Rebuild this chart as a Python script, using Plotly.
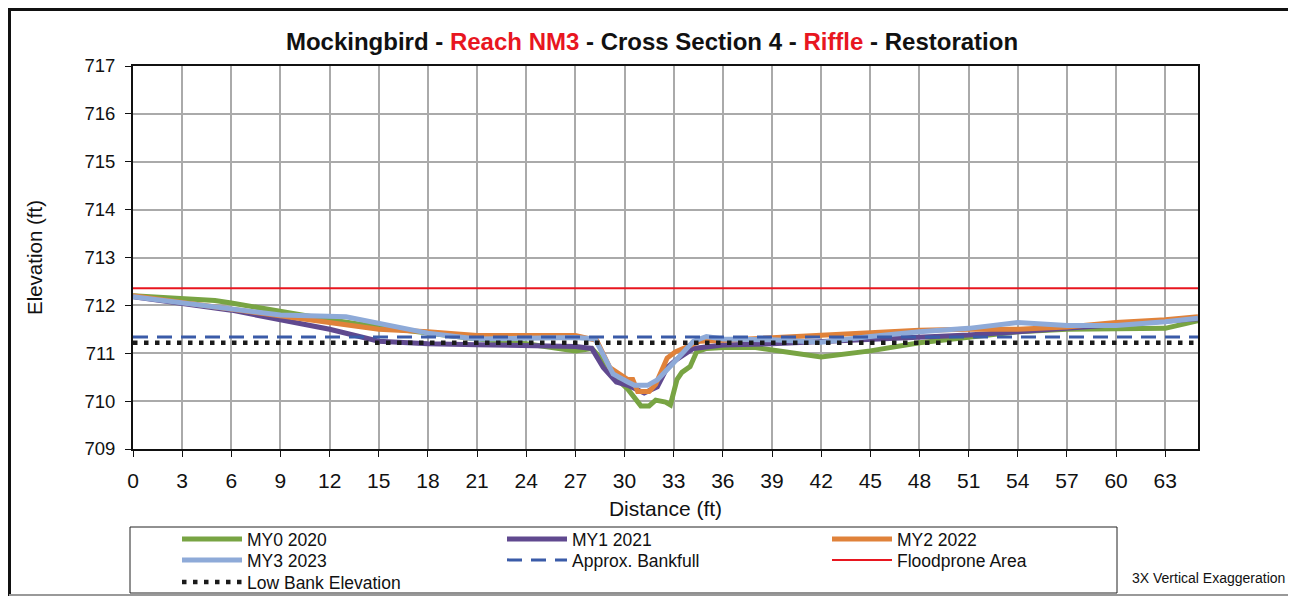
import plotly.graph_objects as go

# ---- data ----
my0_x = [0, 5, 6, 9, 12, 15, 18, 21, 24, 27, 28, 28.8, 29.4, 30.2, 31.0, 31.5, 31.9, 32.5, 32.8, 33.2, 33.5, 34.0, 34.4, 35.0, 36, 38, 42, 45, 48, 51, 54, 57, 60, 63, 65]
my0_y = [712.2, 712.1, 712.05, 711.87, 711.7, 711.55, 711.42, 711.3, 711.2, 711.05, 711.1, 710.8, 710.5, 710.25, 709.9, 709.9, 710.02, 709.98, 709.92, 710.45, 710.6, 710.72, 711.03, 711.1, 711.12, 711.12, 710.92, 711.05, 711.22, 711.33, 711.45, 711.5, 711.5, 711.52, 711.68]

my1_x = [0, 6, 9, 12, 15, 18, 21, 24, 27, 28, 28.7, 29.5, 30.2, 31.2, 32.0, 32.6, 33.1, 34.2, 36, 39, 42, 45, 48, 51, 54, 57, 60, 63, 65]
my1_y = [712.18, 711.9, 711.7, 711.5, 711.25, 711.2, 711.18, 711.16, 711.14, 711.1, 710.7, 710.4, 710.33, 710.17, 710.3, 710.7, 710.85, 711.1, 711.17, 711.2, 711.24, 711.28, 711.33, 711.38, 711.45, 711.52, 711.58, 711.65, 711.72]

my2_x = [0, 6, 10, 15, 18, 21, 24, 27, 28.3, 29.1, 30.2, 30.5, 30.8, 31.5, 31.9, 32.6, 33.1, 33.6, 34.6, 36, 39, 42, 45, 48, 51, 54, 57, 60, 63, 65]
my2_y = [712.2, 711.92, 711.72, 711.5, 711.45, 711.37, 711.37, 711.37, 711.27, 710.7, 710.45, 710.45, 710.2, 710.2, 710.35, 710.9, 711.03, 711.1, 711.25, 711.27, 711.32, 711.37, 711.42, 711.48, 711.5, 711.5, 711.55, 711.64, 711.7, 711.76]

my3_x = [0, 5, 9, 13, 15, 18, 21, 24, 27, 28.2, 29.3, 30.2, 30.6, 31.4, 32, 33, 34.2, 35, 36, 39, 42, 45, 48, 51, 54, 57, 60, 63, 65]
my3_y = [712.18, 711.97, 711.8, 711.76, 711.62, 711.42, 711.3, 711.32, 711.33, 711.3, 710.57, 710.4, 710.33, 710.33, 710.44, 710.8, 711.25, 711.35, 711.3, 711.28, 711.23, 711.35, 711.45, 711.52, 711.64, 711.58, 711.58, 711.66, 711.73]

line_x = [0, 65]
bankfull_y = [711.34, 711.34]
floodprone_y = [712.36, 712.36]
lowbank_y = [711.22, 711.22]

x_ticks = list(range(0, 64, 3))
y_ticks = list(range(709, 718))

FONT = "Liberation Sans, Arial, sans-serif"

# page body has an 8px margin; lay out in viewport pixels, convert to figure space
OX, OY = 8, 8
W, H = 1296 - OX, 597 - OY
L, R, T, B = 133 - OX, 1296 - 1198, 66 - OY, 597 - 449
PW, PH = W - L - R, H - T - B
def px(x): return (x - OX - L) / PW
def py(y): return (H - B - (y - OY)) / PH

fig = go.Figure()
series = [
    ("MY0 2020", my0_x, my0_y, dict(color="#78A443", width=5), "legend"),
    ("MY1 2021", my1_x, my1_y, dict(color="#60498F", width=5), "legend"),
    ("MY2 2022", my2_x, my2_y, dict(color="#E0823A", width=5), "legend"),
    ("MY3 2023", my3_x, my3_y, dict(color="#8EAAD8", width=5), "legend2"),
    ("Approx. Bankfull", line_x, bankfull_y, dict(color="#3A5BA8", width=3, dash="15px,9px"), "legend2"),
    ("Floodprone Area", line_x, floodprone_y, dict(color="#E8161F", width=2), "legend2"),
    ("Low Bank Elevation", line_x, lowbank_y, dict(color="#1a1a1a", width=4.5, dash="4.5px,6.5px"), "legend3"),
]
for name, xs, ys, ln, lg in series:
    fig.add_trace(go.Scatter(x=xs, y=ys, mode="lines", name=name, line=ln, legend=lg))

title = ("<b>Mockingbird - <span style='color:#E8161F'>Reach NM3</span> - Cross Section 4 - "
         "<span style='color:#E8161F'>Riffle</span> - Restoration</b>")

shapes = [
    dict(type="line", xref="paper", yref="paper", x0=px(9), x1=px(1293), y0=py(9.5), y1=py(9.5), line=dict(color="#111", width=3)),
    dict(type="line", xref="paper", yref="paper", x0=px(9.5), x1=px(9.5), y0=py(8), y1=py(596), line=dict(color="#111", width=3)),
    dict(type="line", xref="paper", yref="paper", x0=px(1293), x1=px(1293), y0=py(8), y1=py(596), line=dict(color="#111", width=3)),
    dict(type="line", xref="paper", yref="paper", x0=px(9), x1=px(1293), y0=py(595), y1=py(595), line=dict(color="#999", width=2)),
    dict(type="rect", xref="paper", yref="paper", x0=px(130), x1=px(1117), y0=py(527), y1=py(593), line=dict(color="#222", width=1)),
]

def leg(ycenter):
    return dict(orientation="h", x=px(177), xanchor="left", y=py(ycenter), yanchor="middle",
                borderwidth=0, bgcolor="rgba(0,0,0,0)",
                font=dict(family=FONT, size=17.5, color="#111"),
                itemwidth=60, entrywidth=250, entrywidthmode="pixels", traceorder="normal")

fig.update_layout(
    width=W, height=H,
    margin=dict(l=L, r=R, t=T, b=B, autoexpand=False),
    paper_bgcolor="white", plot_bgcolor="white",
    font=dict(family=FONT, color="#111", size=17),
    title=dict(text=title, x=(652 - OX) / W, xanchor="center", y=1 - (42 - OY) / H, yanchor="middle",
               font=dict(family=FONT, size=24, color="#111")),
    xaxis=dict(range=[0, 65], tickvals=x_ticks, showgrid=True, gridcolor="#AAAAAA", gridwidth=1.5,
               showline=True, linecolor="#111", linewidth=2, mirror=True,
               ticks="outside", ticklen=6, tickcolor="#111", zeroline=False, ticklabelstandoff=6,
               title=dict(text="Distance (ft)", font=dict(size=21), standoff=10),
               tickfont=dict(size=21), automargin=False),
    yaxis=dict(range=[709, 717], tickvals=y_ticks, showgrid=True, gridcolor="#AAAAAA", gridwidth=1.5,
               showline=True, linecolor="#111", linewidth=2, mirror=True,
               ticks="outside", ticklen=6, tickcolor="#111", zeroline=False, ticklabelstandoff=6,
               title=dict(text="Elevation (ft)", font=dict(size=20.5), standoff=36),
               tickfont=dict(size=18.5), automargin=False),
    legend=leg(539),
    legend2=leg(560),
    legend3=leg(582),
    shapes=shapes,
    annotations=[dict(text="3X Vertical Exaggeration", xref="paper", yref="paper",
                      x=px(1208), y=py(578), xanchor="center", yanchor="middle",
                      showarrow=False, font=dict(family=FONT, size=14, color="#111"))],
    showlegend=True,
)

fig.write_html("out.html")
